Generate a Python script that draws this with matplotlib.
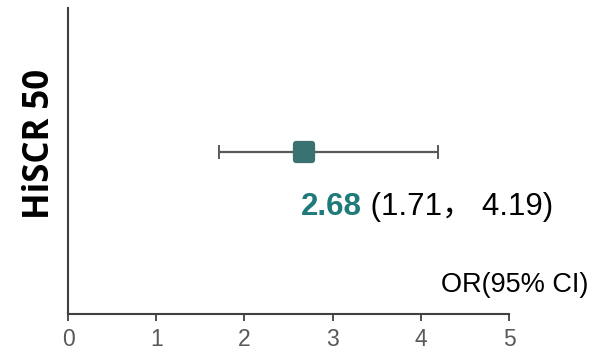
import matplotlib
matplotlib.use("Agg")
import matplotlib.pyplot as plt
from matplotlib.markers import MarkerStyle

outcome = "HiSCR 50"
odds_ratio = 2.68
ci_low = 1.71
ci_high = 4.19
x_ticks = [0, 1, 2, 3, 4, 5]
x_tick_labels = ["0", "1", "2", "3", "4", "5"]

fig = plt.figure(figsize=(5.93, 3.51), dpi=100)
ax = fig.add_axes([0.1147, 0.1054, 0.7436, 0.8716])
ax.set_xlim(0, 5)
ax.set_ylim(0, 1)

teal = "#3A7272"
y_row = 0.529

# confidence interval
ax.errorbar([odds_ratio], [y_row], xerr=[[odds_ratio - ci_low], [ci_high - odds_ratio]],
            fmt="none", ecolor="#595959", elinewidth=1.6, capsize=5, capthick=1.4, zorder=2)
# rounded square marker for the point estimate
ax.plot([odds_ratio], [y_row], marker=MarkerStyle("s", joinstyle="round"), markersize=11,
        color=teal, markeredgecolor=teal, markeredgewidth=4.5, linestyle="none", zorder=3)

# value label
t1 = ax.text(2.64, 0.35, f"{odds_ratio:.2f}", color="#1F7A7A", fontsize=22.5,
             fontweight="bold", family=["Liberation Sans", "DejaVu Sans"],
             va="center", ha="left")
fig.canvas.draw()
bb = t1.get_window_extent()
x_end = ax.transData.inverted().transform((bb.x1, bb.y0))[0]
ax.text(x_end, 0.35, f" ({ci_low:.2f}\uff0c {ci_high:.2f})", color="black", fontsize=22.5,
        family=["Liberation Sans", "Noto Sans CJK SC", "DejaVu Sans"],
        va="center", ha="left")

ax.text(1.18, 0.095, "OR(95% CI)", transform=ax.transAxes, ha="right", va="center",
        fontsize=19.5, family=["Liberation Sans"], color="black")

for side in ["top", "right"]:
    ax.spines[side].set_visible(False)
for side in ["left", "bottom"]:
    ax.spines[side].set_color("#404040")
    ax.spines[side].set_linewidth(1.5)

ax.set_yticks([])
ax.set_xticks(x_ticks)
ax.set_xticklabels(x_tick_labels, fontsize=16.5, color="#595959", family="Liberation Sans")
ax.tick_params(axis="x", direction="out", length=5, width=1.3, color="#404040", pad=5)

fig.text(0.067, 0.59, outcome, rotation=90, ha="center", va="center",
         fontsize=25, fontweight="bold", family=["Open Sans"], color="black")

fig.savefig("out.png", dpi=100)
